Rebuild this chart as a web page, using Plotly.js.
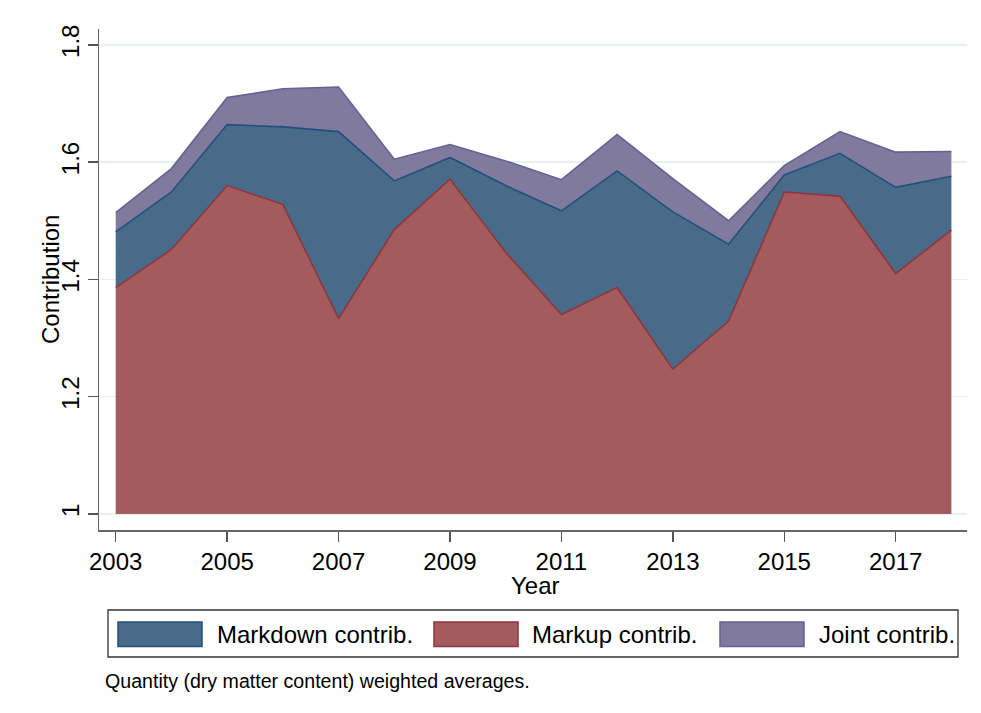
<!DOCTYPE html>
<html>
<head>
<meta charset="utf-8">
<script src="https://cdn.plot.ly/plotly-3.0.1.min.js"></script>
<style>
  html, body { margin: 0; padding: 0; background: #ffffff; }
  #chart { width: 981px; height: 713px; }
</style>
</head>
<body>
<div id="chart"></div>
<script>
// ---- data ----
const years = [2003, 2004, 2005, 2006, 2007, 2008, 2009, 2010, 2011, 2012, 2013, 2014, 2015, 2016, 2017, 2018];
// cumulative levels of the stacked areas (baseline = 1)
const markupTop   = [1.386, 1.451, 1.560, 1.528, 1.333, 1.485, 1.571, 1.446, 1.340, 1.386, 1.247, 1.329, 1.549, 1.542, 1.410, 1.484];
const markdownTop = [1.481, 1.549, 1.664, 1.660, 1.652, 1.568, 1.608, 1.560, 1.517, 1.585, 1.515, 1.460, 1.578, 1.615, 1.557, 1.576];
const jointTop    = [1.514, 1.589, 1.710, 1.725, 1.728, 1.605, 1.630, 1.602, 1.570, 1.647, 1.572, 1.500, 1.594, 1.652, 1.617, 1.618];
const baseLevel = 1;
const xTickVals = [2003, 2005, 2007, 2009, 2011, 2013, 2015, 2017];
const yTickVals = [1, 1.2, 1.4, 1.6, 1.8];
const yTickText = ['1', '1.2', '1.4', '1.6', '1.8'];
const seriesNames = ['Markdown contrib.', 'Markup contrib.', 'Joint contrib.'];
const xTitle = 'Year';
const yTitle = 'Contribution';
const noteText = 'Quantity (dry matter content) weighted averages.';

// ---- styles ----
const FONT = 'Arial, "Liberation Sans", sans-serif';
const FS = 24;
const colMarkdown = { fill: '#486b8a', line: '#23507a' };
const colMarkup   = { fill: '#a35b5e', line: '#90353b' };
const colJoint    = { fill: '#7f7a9e', line: '#67628f' };

const traces = [
  { x: years, y: years.map(() => baseLevel), mode: 'lines', line: { width: 0, color: 'rgba(0,0,0,0)' },
    showlegend: false, hoverinfo: 'skip' },
  { x: years, y: markupTop, mode: 'lines', fill: 'tonexty', fillcolor: colMarkup.fill,
    line: { color: colMarkup.line, width: 1.6 }, name: seriesNames[1], showlegend: false },
  { x: years, y: markdownTop, mode: 'lines', fill: 'tonexty', fillcolor: colMarkdown.fill,
    line: { color: colMarkdown.line, width: 1.6 }, name: seriesNames[0], showlegend: false },
  { x: years, y: jointTop, mode: 'lines', fill: 'tonexty', fillcolor: colJoint.fill,
    line: { color: colJoint.line, width: 1.6 }, name: seriesNames[2], showlegend: false }
];

// plot area in pixels: x 99..967, y 29..530
const L = 99, R = 967, T = 29, B = 530, W = 981, H = 713;
const px = v => (v - L) / (R - L);
const py = v => (B - v) / (B - T);

const swatches = [
  { x0: 118, x1: 202, tx: 215, c: colMarkdown, label: seriesNames[0] },
  { x0: 434, x1: 518, tx: 530, c: colMarkup, label: seriesNames[1] },
  { x0: 720, x1: 804, tx: 817, c: colJoint, label: seriesNames[2] }
];

const shapes = [
  { type: 'rect', xref: 'paper', yref: 'paper', x0: px(108), x1: px(958), y0: py(657), y1: py(610),
    line: { color: '#333333', width: 1.3 }, fillcolor: 'rgba(0,0,0,0)' }
];
const annotations = [];
swatches.forEach(s => {
  shapes.push({ type: 'rect', xref: 'paper', yref: 'paper', x0: px(s.x0), x1: px(s.x1),
    y0: py(646.5), y1: py(622), fillcolor: s.c.fill, line: { color: s.c.line, width: 1.5 } });
  annotations.push({ xref: 'paper', yref: 'paper', x: px(s.tx), y: py(634.5), xanchor: 'left', yanchor: 'middle',
    text: s.label, showarrow: false, font: { family: FONT, size: FS, color: '#000' } });
});
// axis titles
annotations.push({ xref: 'paper', yref: 'paper', x: px(535), y: py(585), xanchor: 'center', yanchor: 'middle',
  text: xTitle, showarrow: false, font: { family: FONT, size: FS, color: '#000' } });
annotations.push({ xref: 'paper', yref: 'paper', x: px(50.5), y: py(279.5), xanchor: 'center', yanchor: 'middle',
  text: yTitle, textangle: -90, showarrow: false, font: { family: FONT, size: FS, color: '#000' } });
// note
annotations.push({ xref: 'paper', yref: 'paper', x: px(103), y: py(681), xanchor: 'left', yanchor: 'middle',
  text: noteText, showarrow: false, font: { family: FONT, size: 19.6, color: '#000' } });

const layout = {
  width: W, height: H,
  margin: { l: L, r: W - R, t: T, b: H - B, pad: 0 },
  paper_bgcolor: '#ffffff', plot_bgcolor: '#ffffff',
  font: { family: FONT, color: '#000' },
  showlegend: false,
  xaxis: {
    range: [2002.7, 2018.28], tickvals: xTickVals, ticktext: xTickVals.map(String),
    ticks: 'outside', ticklen: 10, tickwidth: 1.5, tickcolor: '#555',
    showline: true, linecolor: '#666', linewidth: 1.5, showgrid: false, zeroline: false,
    tickfont: { family: FONT, size: FS, color: '#000' },
    automargin: false
  },
  yaxis: {
    range: [0.9726, 1.827], tickvals: yTickVals, ticktext: yTickText, tickangle: -90,
    ticks: 'outside', ticklen: 10, tickwidth: 1.5, tickcolor: '#555', ticklabelstandoff: -1,
    showline: true, linecolor: '#666', linewidth: 1.5,
    showgrid: true, gridcolor: '#e8f0f1', gridwidth: 1.5, zeroline: false,
    tickfont: { family: FONT, size: FS, color: '#000' },
    automargin: false
  },
  shapes: shapes,
  annotations: annotations
};

Plotly.newPlot('chart', traces, layout, { staticPlot: true, displayModeBar: false });
</script>
</body>
</html>
